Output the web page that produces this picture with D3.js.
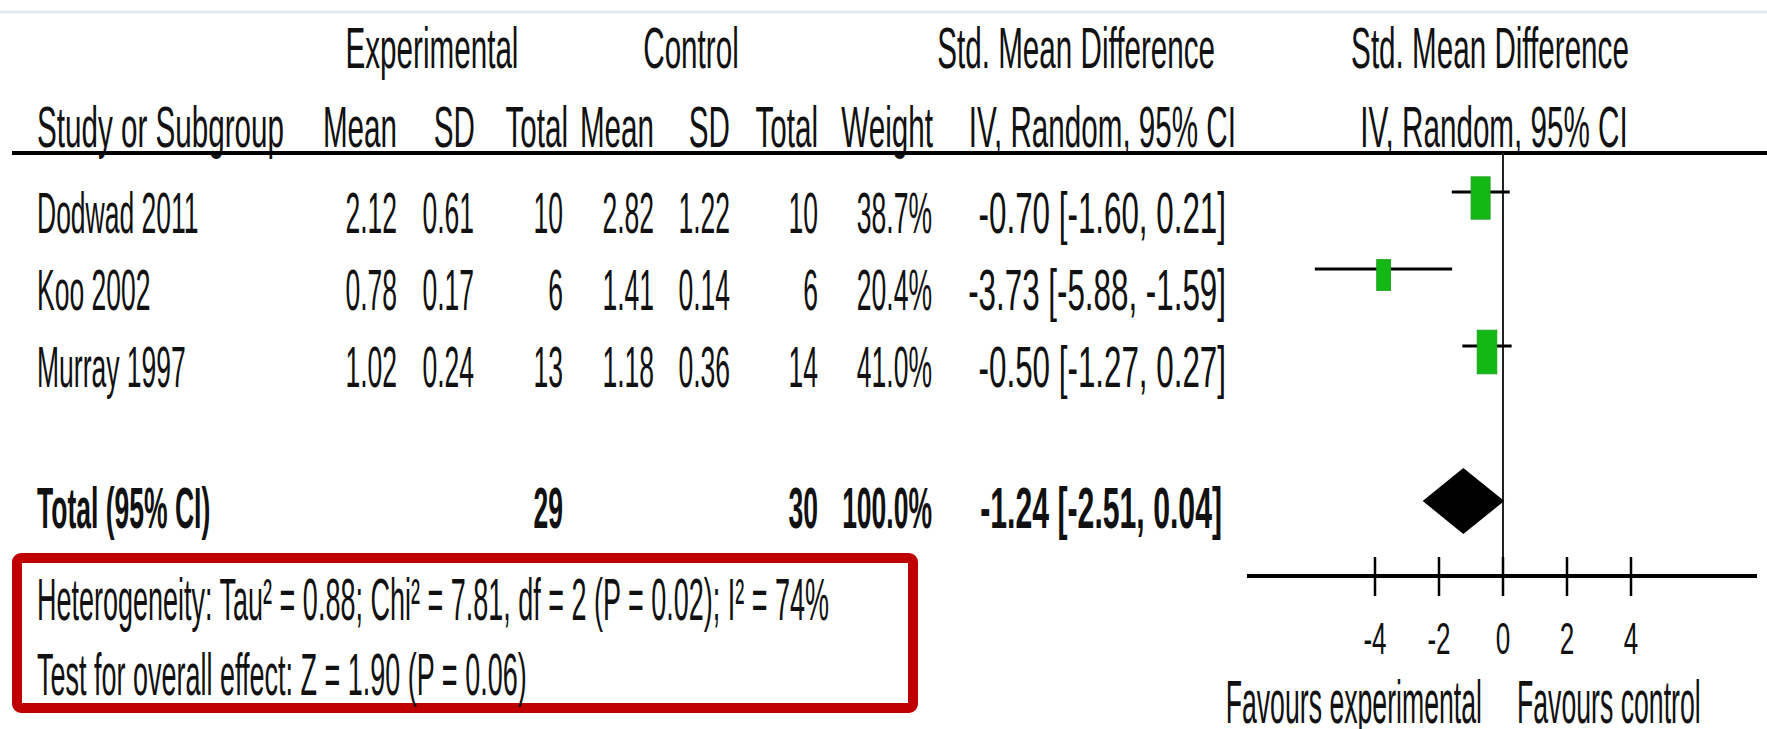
<!DOCTYPE html>
<html>
<head>
<meta charset="utf-8">
<script src="https://cdn.jsdelivr.net/npm/d3@7"></script>
<style>
  body { margin: 0; background: #fff; }
  svg text { font-family: "Liberation Sans", Arial, sans-serif; fill: #111; }
</style>
</head>
<body>
<div id="chart"></div>
<script>
// forest plot data
var studies  = ["Dodwad 2011", "Koo 2002", "Murray 1997"];
var expMean  = [2.12, 0.78, 1.02];
var expSD    = [0.61, 0.17, 0.24];
var expN     = [10, 6, 13];
var ctlMean  = [2.82, 1.41, 1.18];
var ctlSD    = [1.22, 0.14, 0.36];
var ctlN     = [10, 6, 14];
var weight   = [38.7, 20.4, 41.0];
var smd      = [-0.70, -3.73, -0.50];
var ciLow    = [-1.60, -5.88, -1.27];
var ciHigh   = [0.21, -1.59, 0.27];

var totalLabel = "Total (95% CI)";
var totalExpN = 29, totalCtlN = 30, totalWeight = 100.0;
var totalSmd = -1.24, totalLow = -2.51, totalHigh = 0.04;

var xTicks = [-4, -2, 0, 2, 4];
var xDomain = [-8, 8];
var favourLabels = ["Favours experimental", "Favours control"];
var heterogeneity = "Heterogeneity: Tau\u00b2 = 0.88; Chi\u00b2 = 7.81, df = 2 (P = 0.02); I\u00b2 = 74%";
var overallTest = "Test for overall effect: Z = 1.90 (P = 0.06)";

var width = 1767, height = 729;

var svg = d3.select("#chart").append("svg")
    .attr("width", width)
    .attr("height", height);

svg.append("rect").attr("width", width).attr("height", height).attr("fill", "#fff");

// pale top border from the screenshot
svg.append("line")
    .attr("x1", 0).attr("x2", width).attr("y1", 12).attr("y2", 12)
    .attr("stroke", "#e2ebf0").attr("stroke-width", 3);

// condensed text helper
function txt(x, y, s, o) {
    o = o || {};
    return svg.append("text")
        .attr("transform", "translate(" + x + "," + y + ") scale(" + (o.sx || 0.465) + ",1)")
        .attr("text-anchor", o.anchor || "end")
        .attr("font-size", o.size || 57)
        .attr("font-weight", o.bold ? "bold" : null)
        .text(s);
}

function f2(v) { return v.toFixed(2); }
function ciText(m, lo, hi) { return f2(m) + " [" + f2(lo) + ", " + f2(hi) + "]"; }

var col = { study: 37, expMean: 397, expSD: 474, expN: 563, ctlMean: 654, ctlSD: 730, ctlN: 818, weight: 932, ci: 1226 };

// headers
var hs = { sx: 0.52 };
txt(432, 68, "Experimental", { sx: 0.52, anchor: "middle" });
txt(691, 68, "Control", { sx: 0.52, anchor: "middle" });
txt(1215, 68, "Std. Mean Difference", hs);
txt(1490, 68, "Std. Mean Difference", { sx: 0.52, anchor: "middle" });

txt(col.study, 147, "Study or Subgroup", { sx: 0.52, anchor: "start" });
txt(col.expMean, 147, "Mean", hs);
txt(col.expSD + 1, 147, "SD", hs);
txt(568, 147, "Total", hs);
txt(col.ctlMean, 147, "Mean", hs);
txt(col.ctlSD, 147, "SD", hs);
txt(col.ctlN, 147, "Total", hs);
txt(933, 147, "Weight", hs);
txt(1236, 147, "IV, Random, 95% CI", hs);
txt(1494, 147, "IV, Random, 95% CI", { sx: 0.52, anchor: "middle" });

svg.append("line")
    .attr("x1", 12).attr("x2", width).attr("y1", 153).attr("y2", 153)
    .attr("stroke", "#000").attr("stroke-width", 4);

// scales
var x = d3.scaleLinear().domain(xDomain).range([1247, 1759]);
var y = d3.scalePoint().domain(studies).range([233, 387]);
var boxW = d3.scaleSqrt().domain([0, 100]).range([0, 30.5]);
var boxH = d3.scaleSqrt().domain([0, 100]).range([0, 68]);

// study rows
studies.forEach(function(s, i) {
    var yy = y(s);
    txt(col.study, yy, s, { anchor: "start" });
    txt(col.expMean, yy, f2(expMean[i]));
    txt(col.expSD, yy, f2(expSD[i]));
    txt(col.expN, yy, expN[i]);
    txt(col.ctlMean, yy, f2(ctlMean[i]));
    txt(col.ctlSD, yy, f2(ctlSD[i]));
    txt(col.ctlN, yy, ctlN[i]);
    txt(col.weight, yy, weight[i].toFixed(1) + "%");
    txt(col.ci, yy, ciText(smd[i], ciLow[i], ciHigh[i]), { sx: 0.55 });
});

// total row
var totalY = 528;
txt(col.study, totalY, totalLabel, { anchor: "start", bold: true });
txt(col.expN, totalY, totalExpN, { bold: true });
txt(col.ctlN, totalY, totalCtlN, { bold: true });
txt(col.weight, totalY, totalWeight.toFixed(1) + "%", { bold: true });
txt(col.ci - 4, totalY, ciText(totalSmd, totalLow, totalHigh), { sx: 0.53, bold: true });

// zero line
var axisY = 576;
svg.append("line")
    .attr("x1", x(0)).attr("x2", x(0)).attr("y1", 153).attr("y2", axisY)
    .attr("stroke", "#222").attr("stroke-width", 2);

// CI whiskers
svg.selectAll(".ci").data(studies).enter().append("line")
    .attr("class", "ci")
    .attr("x1", function(d, i) { return x(ciLow[i]); })
    .attr("x2", function(d, i) { return x(ciHigh[i]); })
    .attr("y1", function(d) { return y(d) - 41; })
    .attr("y2", function(d) { return y(d) - 41; })
    .attr("stroke", "#000").attr("stroke-width", 3);

// weighted boxes
svg.selectAll(".box").data(studies).enter().append("rect")
    .attr("class", "box")
    .attr("x", function(d, i) { return x(smd[i]) - boxW(weight[i]) / 2; })
    .attr("y", function(d, i) { return y(d) - 35 - boxH(weight[i]) / 2; })
    .attr("width", function(d, i) { return boxW(weight[i]); })
    .attr("height", function(d, i) { return boxH(weight[i]); })
    .attr("fill", "#14b814")
    .attr("stroke", "#1fa41f").attr("stroke-width", 1);

// pooled diamond
var dy = totalY - 27;
svg.append("path")
    .attr("d", "M" + x(totalLow) + "," + dy +
               "L" + x(totalSmd) + "," + (dy - 33) +
               "L" + x(totalHigh) + "," + dy +
               "L" + x(totalSmd) + "," + (dy + 33) + "Z")
    .attr("fill", "#000");

// axis
svg.append("line")
    .attr("x1", x(xDomain[0])).attr("x2", x(xDomain[1]) - 2)
    .attr("y1", axisY).attr("y2", axisY)
    .attr("stroke", "#000").attr("stroke-width", 4);

svg.selectAll(".tick").data(xTicks).enter().append("line")
    .attr("class", "tick")
    .attr("x1", function(d) { return x(d); })
    .attr("x2", function(d) { return x(d); })
    .attr("y1", axisY - 19).attr("y2", axisY + 20)
    .attr("stroke", "#000").attr("stroke-width", 2.5);

xTicks.forEach(function(t) {
    txt(x(t), 654, String(t), { anchor: "middle", size: 45, sx: 0.58 });
});

txt(1482, 723, favourLabels[0], { size: 62, sx: 0.43 });
txt(1517, 723, favourLabels[1], { size: 62, sx: 0.43, anchor: "start" });

// highlighted summary box
svg.append("rect")
    .attr("x", 17).attr("y", 558).attr("width", 896).attr("height", 150)
    .attr("rx", 4)
    .attr("fill", "none").attr("stroke", "#c00000").attr("stroke-width", 10);

txt(col.study, 620, heterogeneity, { anchor: "start", size: 60, sx: 0.45 });
txt(col.study, 695, overallTest, { anchor: "start", size: 60, sx: 0.45 });
</script>
</body>
</html>
